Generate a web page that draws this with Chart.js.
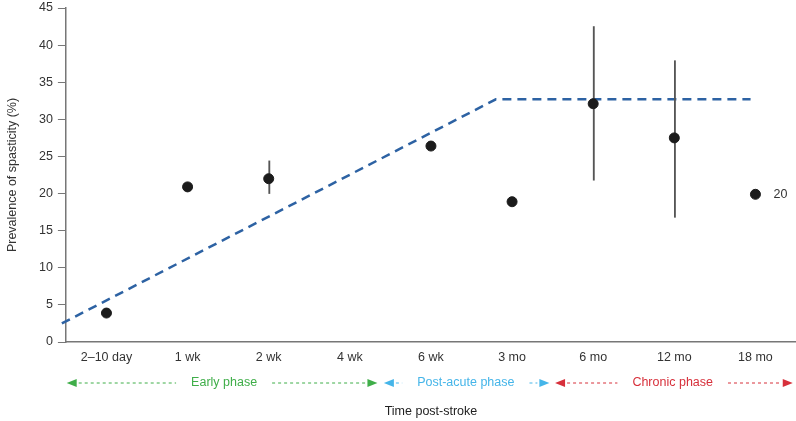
<!DOCTYPE html>
<html>
<head>
<meta charset="utf-8">
<script src="https://cdn.jsdelivr.net/npm/chart.js@4"></script>
<style>
  html, body { margin: 0; padding: 0; background: #fff; }
  #wrap { width: 796px; height: 421px; }
</style>
</head>
<body>
<div id="wrap"><canvas id="spasticityChart" width="796" height="421"></canvas></div>
<script>
// categories and values
const timeLabels = ['2\u201310 day', '1 wk', '2 wk', '4 wk', '6 wk', '3 mo', '6 mo', '12 mo', '18 mo'];
const prevalence = [3.9, 20.9, 22.0, null, 26.4, 18.9, 32.1, 27.5, 19.9];
const errLow = [null, null, 20.0, null, null, null, 21.8, 16.8, null];
const errHigh = [null, null, 24.4, null, null, null, 42.5, 37.9, null];
const pointNotes = [null, null, null, null, null, null, null, null, '20'];

// trend line (x in category units)
const trendX = [-0.55, 4.8, 7.94];
const trendY = [2.5, 32.7, 32.7];

// phases under the axis
const phaseNames = ['Early phase', 'Post-acute phase', 'Chronic phase'];
const phaseFrom = [-0.49, 3.42, 5.53];
const phaseTo = [3.34, 5.46, 8.46];
const phaseTextAt = [1.45, 4.43, 6.98];
const phaseColors = ['#3fae49', '#45b5e9', '#d7303b'];

const yTicks = [0, 45, 5];

const FONT = '"Liberation Sans", Arial, sans-serif';

const errorBars = timeLabels.map(function(_, i) {
    return errLow[i] === null ? null : [errLow[i], errHigh[i]];
});

const phasePlugin = {
    id: 'phases',
    afterDraw: function(chart) {
        const ctx = chart.ctx;
        const x = chart.scales.x;
        const y = chart.scales.y;
        const rowY = 383;
        ctx.save();
        ctx.font = '12.5px ' + FONT;
        ctx.textBaseline = 'middle';

        // point notes
        ctx.fillStyle = '#333';
        ctx.textAlign = 'left';
        pointNotes.forEach(function(note, i) {
            if (note) {
                ctx.fillText(note, x.getPixelForValue(i) + 18, y.getPixelForValue(prevalence[i]));
            }
        });

        phaseNames.forEach(function(name, i) {
            const x0 = x.getPixelForValue(phaseFrom[i]);
            const x1 = x.getPixelForValue(phaseTo[i]);
            const xt = x.getPixelForValue(phaseTextAt[i]);
            const tw = ctx.measureText(name).width;
            const col = phaseColors[i];
            ctx.fillStyle = col;
            ctx.strokeStyle = col;
            ctx.lineWidth = 1;
            ctx.textAlign = 'center';
            ctx.fillText(name, xt, rowY);

            ctx.setLineDash([3, 3]);
            ctx.beginPath();
            ctx.moveTo(x0 + 12, rowY);
            ctx.lineTo(xt - tw / 2 - 15, rowY);
            ctx.moveTo(xt + tw / 2 + 15, rowY);
            ctx.lineTo(x1 - 12, rowY);
            ctx.stroke();
            ctx.setLineDash([]);

            // arrow heads
            ctx.beginPath();
            ctx.moveTo(x0, rowY);
            ctx.lineTo(x0 + 10, rowY - 4);
            ctx.lineTo(x0 + 10, rowY + 4);
            ctx.closePath();
            ctx.fill();
            ctx.beginPath();
            ctx.moveTo(x1, rowY);
            ctx.lineTo(x1 - 10, rowY - 4);
            ctx.lineTo(x1 - 10, rowY + 4);
            ctx.closePath();
            ctx.fill();
        });
        ctx.restore();
    }
};

const ctx = document.getElementById('spasticityChart').getContext('2d');
const spasticityChart = new Chart(ctx, {
    data: {
        labels: timeLabels,
        datasets: [{
            type: 'line',
            label: 'Trend',
            xAxisID: 'x2',
            data: trendX.map(function(v, i) { return { x: v, y: trendY[i] }; }),
            borderColor: '#2d62a3',
            borderWidth: 2.5,
            borderDash: [9, 6],
            pointRadius: 0,
            fill: false,
            clip: false,
            order: 3
        }, {
            type: 'bar',
            label: 'Range',
            data: errorBars,
            backgroundColor: '#555',
            barThickness: 1.2,
            order: 2
        }, {
            type: 'scatter',
            label: 'Prevalence',
            data: prevalence,
            backgroundColor: '#1b1b1b',
            borderColor: '#1b1b1b',
            pointRadius: 5,
            showLine: false,
            clip: false,
            order: 1
        }]
    },
    options: {
        responsive: false,
        animation: false,
        layout: { autoPadding: false, padding: { top: 0, right: 0, bottom: 0, left: 5 } },
        plugins: {
            legend: { display: false },
            tooltip: { enabled: false }
        },
        scales: {
            x: {
                type: 'category',
                offset: true,
                grid: { display: false, drawTicks: false },
                border: { display: true, color: '#777', width: 1.5 },
                ticks: { color: '#333', font: { size: 12.5, family: FONT }, padding: 8 },
                title: {
                    display: true,
                    text: 'Time post-stroke',
                    color: '#222',
                    font: { size: 12.5, family: FONT },
                    padding: { top: 31, bottom: 2 }
                }
            },
            x2: {
                type: 'linear',
                display: false,
                min: -0.5,
                max: timeLabels.length - 0.5
            },
            y: {
                min: yTicks[0],
                max: yTicks[1],
                afterFit: function(scale) {
                    scale.paddingTop = 8;
                },
                grid: { drawOnChartArea: false, tickLength: 8, color: '#777' },
                border: { display: true, color: '#777', width: 1.5 },
                ticks: { stepSize: yTicks[2], color: '#333', font: { size: 12.5, family: FONT }, padding: 5 },
                title: {
                    display: true,
                    text: 'Prevalence of spasticity (%)',
                    color: '#333',
                    font: { size: 12.5, family: FONT },
                    padding: { top: 0, bottom: 14 }
                }
            }
        }
    },
    plugins: [phasePlugin]
});
</script>
</body>
</html>
